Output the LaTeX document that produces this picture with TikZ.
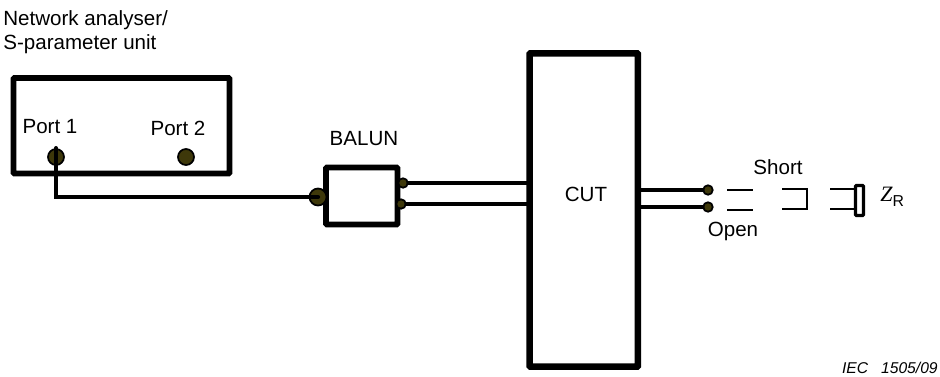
\documentclass[tikz,border=0pt]{standalone}
\usepackage{fontspec}
\setmainfont{Liberation Sans}
\newfontfamily\zfont{Liberation Serif}
\definecolor{portfill}{RGB}{62,56,10}
\tikzstyle{box} = [rectangle, draw=black, line width=3.2pt, rounded corners=0.5pt, inner sep=0pt]
\tikzstyle{port} = [circle, draw=black, fill=portfill, line width=1pt, inner sep=0pt]
\tikzstyle{label} = [inner sep=0pt, align=left, font=\fontsize{11.7}{14}\selectfont]
\tikzstyle{wire} = [line width=2.4pt, line cap=round]
\tikzstyle{stub} = [line width=1.4pt]

\begin{document}
\begin{tikzpicture}[x=0.02cm, y=-0.02cm]
\useasboundingbox (0,0) rectangle (940,376);

% Nodes
\node (analyser) [box, minimum width=4.32cm, minimum height=1.91cm] at (121.5,125.75) {};
\node (balun) [box, minimum width=1.43cm, minimum height=1.14cm] at (361.75,196) {};
\node (cut) [box, line width=3.7pt, minimum width=2.17cm, minimum height=6.27cm] at (583.75,210) {};
\node (portOne) [port, minimum size=0.32cm] at (56,157) {};
\node (portTwo) [port, minimum size=0.32cm] at (186,157) {};
\node (balunIn) [port, minimum size=0.34cm] at (318,197) {};
\node (balunTop) [port, minimum size=0.19cm] at (403,183) {};
\node (balunBot) [port, minimum size=0.19cm] at (401,204) {};
\node (termTop) [port, minimum size=0.19cm] at (708,190) {};
\node (termBot) [port, minimum size=0.19cm] at (708,207) {};
\node (load) [rectangle, draw=black, line width=1.8pt, rounded corners=0.5pt, inner sep=0pt, minimum width=0.16cm, minimum height=0.6cm] at (859.5,200.5) {};

% Labels
\node (analyserText) [label, anchor=north west] at (3,10) {Network analyser/\\S-parameter unit};
\node (portOneText) [label] at (50,127) {Port 1};
\node (portTwoText) [label] at (178,128) {Port 2};
\node (balunText) [label] at (364,139) {BALUN};
\node (cutText) [label] at (586,194) {CUT};
\node (shortText) [label] at (778,167) {Short};
\node (openText) [label] at (733,231) {Open};
\node (loadText) [label, anchor=west] at (880,197) {{\zfont\itshape\fontsize{12.5}{14}\selectfont Z}\raisebox{-2.6pt}{\fontsize{9}{10}\selectfont R}};
\node (iecText) [label, anchor=east, font=\fontsize{8.9}{10}\itshape] at (938,368) {IEC\ \ \ 1505/09};

% Open, short and load ends
\coordinate (openA1) at (727,190);
\coordinate (openA2) at (753,190);
\coordinate (openB1) at (727,210);
\coordinate (openB2) at (753,210);
\coordinate (shortA) at (782,189);
\coordinate (shortB) at (807,189);
\coordinate (shortC) at (807,209);
\coordinate (shortD) at (782,209);
\coordinate (loadA) at (830,189);
\coordinate (loadB) at (830,209);

% Wires
\draw [wire] (portOne.north) |- (balunIn.center);
\draw [wire] (balunTop.east) -- (balunTop.east -| cut.west);
\draw [wire] (balunBot.east) -- (balunBot.east -| cut.west);
\draw [wire] (termTop.west) -- (termTop.west -| cut.east);
\draw [wire] (termBot.west) -- (termBot.west -| cut.east);
\draw [stub] (openA1) -- (openA2);
\draw [stub] (openB1) -- (openB2);
\draw [stub] (shortA) -- (shortB) -- (shortC) -- (shortD);
\draw [stub] (loadA) -- (loadA -| load.west);
\draw [stub] (loadB) -- (loadB -| load.west);

\end{tikzpicture}
\end{document}
